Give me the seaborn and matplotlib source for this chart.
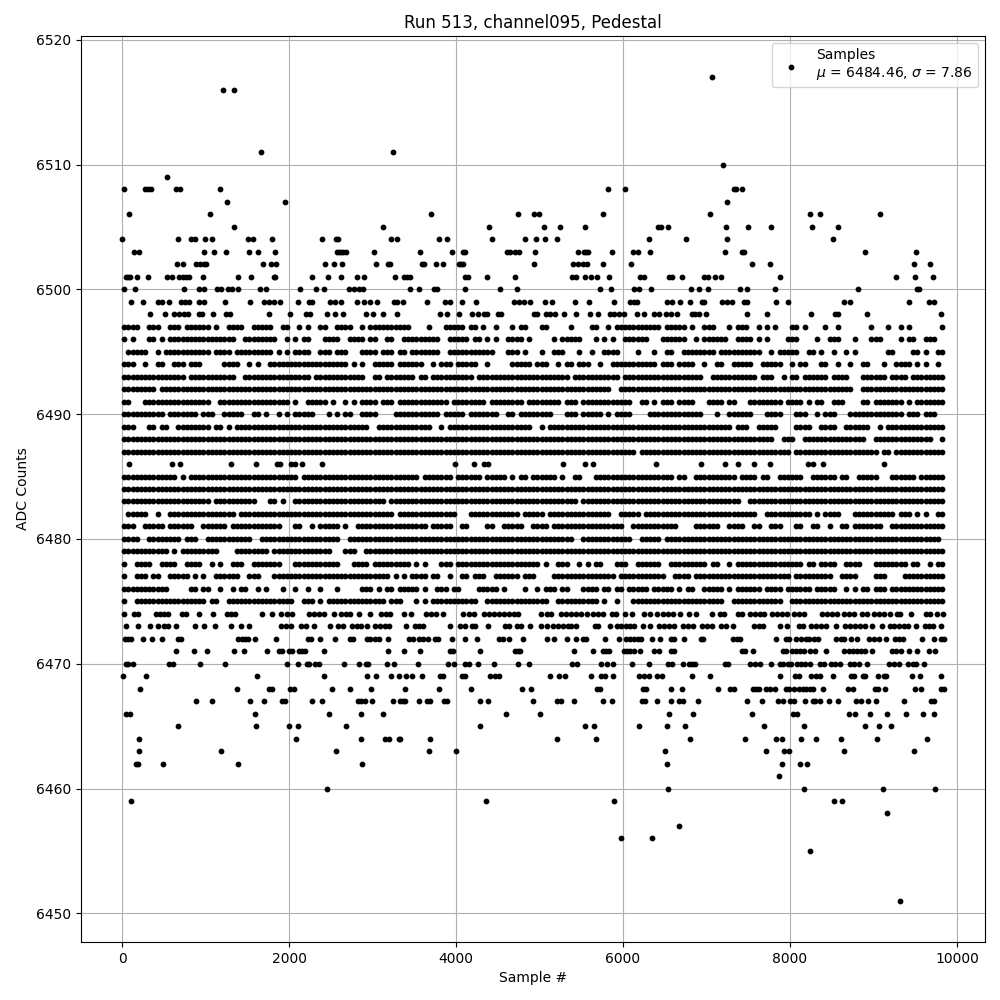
import matplotlib
matplotlib.use('Agg')
import matplotlib.pyplot as plt
import seaborn as sns
import pandas as pd

# sparse rows: sample numbers, one list per ADC level
adc_6517 = [7072]
adc_6516 = [1208, 1344]
adc_6511 = [1664, 3248]
adc_6510 = [7192]
adc_6509 = [536]
adc_6508 = [20, 280, 312, 344, 648, 692, 1172, 5824, 6028, 7324, 7352, 7420]
adc_6507 = [1256, 1952, 7240]
adc_6506 = [80, 1052, 3700, 4744, 4936, 4996, 5764, 7048, 8236, 8356, 9076]
adc_6505 = [1340, 3128, 4396, 5056, 5248, 5548, 6424, 6456, 6544, 7228, 7492, 7768, 8260, 8572]
adc_6504 = [0, 668, 824, 872, 992, 1076, 1508, 1568, 1796, 2396, 2564, 2588, 3224, 3296, 3796, 3892,
            4432, 4828, 4960, 5068, 5212, 6316, 6760, 7240, 8512]
adc_6503 = [140, 208, 980, 1100, 1244, 1520, 1628, 1832, 2576, 2600, 2624, 2648, 2684, 3020, 3568, 3952,
            4084, 4108, 4612, 4648, 4708, 4756, 4948, 5464, 5536, 5560, 5584, 5872, 6124, 6184, 6328,
            7216, 7420, 7444, 8896, 9508]
adc_6502 = [656, 728, 884, 932, 980, 1004, 1688, 1784, 1844, 2432, 2540, 2636, 3044, 3188, 3212, 3592,
            3616, 3760, 3844, 4036, 4060, 4084, 4936, 5404, 5464, 5524, 5572, 5764, 6100, 7540, 7756,
            9484, 9676]
adc_6501 = [44, 68, 92, 176, 308, 536, 596, 680, 728, 764, 800, 968, 1388, 1544, 1820, 1832, 2276, 2468,
            2624, 2816, 2900, 3272, 3376, 3412, 3448, 4108, 4144, 4372, 4708, 5392, 5440, 5548, 5620,
            5692, 5836, 6208, 6256, 6556, 6592, 6712, 6976, 7024, 7108, 7168, 7876, 9268, 9496, 9712]
adc_6500 = [20, 152, 740, 920, 980, 1136, 1184, 1268, 1316, 1388, 1652, 1724, 2132, 2324, 2420, 2720,
            2780, 2840, 2888, 3448, 3556, 3736, 3772, 4108, 4528, 4732, 5728, 5860, 6136, 6196, 6340,
            6820, 6916, 7024, 7396, 7480, 7816, 8812, 9520, 9544]
adc_6499 = [104, 248, 428, 476, 560, 704, 752, 800, 920, 980, 1232, 1532, 1700, 1760, 1820, 1892, 2108,
            2240, 2276, 2492, 2552, 2624, 2816, 2900, 2972, 3056, 3260, 3292, 3364, 3656, 3868, 3928,
            4072, 4240, 4696, 4756, 4816, 4888, 5068, 5152, 5428, 5596, 5896, 6088, 6136, 6172, 6528,
            6588, 6688, 6808, 6944, 6968, 7180, 7240, 7300, 7444, 7480, 7832, 7972, 8644, 8716, 9424,
            9664, 9724]
adc_6498 = [332, 508, 620, 680, 740, 788, 920, 956, 1088, 1244, 1292, 1760, 2012, 2204, 2252, 2456, 2552,
            2648, 2924, 3008, 3128, 3296, 3808, 3892, 4036, 4192, 4264, 4336, 4372, 4504, 4540, 4936,
            4972, 5080, 5128, 5188, 5296, 5440, 5608, 5704, 5848, 5896, 5956, 6016, 6172, 6256, 6376,
            6436, 6520, 6580, 6652, 6832, 6868, 6916, 7000, 7480, 7720, 8248, 8536, 8572, 8920, 9808]
adc_6486 = [80, 596, 692, 1304, 1604, 1852, 1888, 2024, 2072, 2156, 2396, 3988, 4216, 4336, 4384, 5284,
            5548, 5644, 6400, 6940, 7216, 7372, 7564, 7756, 8212, 8272, 8392, 9124]
adc_6474 = [20, 140, 188, 404, 452, 500, 548, 716, 764, 920, 1088, 1256, 1304, 1352, 1676, 1796, 1904,
            1976, 2036, 2240, 2300, 2360, 2420, 2540, 2624, 2684, 2732, 2840, 2972, 3104, 3164, 3212,
            3376, 3460, 3640, 3700, 3760, 3844, 4084, 4156, 4216, 4336, 4396, 4456, 4516, 4576, 4636,
            4696, 4744, 5020, 5092, 5140, 5260, 5316, 5376, 5436, 5496, 5572, 5636, 5696, 5756, 5872,
            5920, 6028, 6112, 6256, 6328, 6412, 6476, 6540, 6600, 6680, 6796, 6880, 7072, 7156, 7204,
            7372, 7420, 7516, 7576, 7636, 7684, 7780, 7844, 7904, 7964, 8044, 8104, 8164, 8380, 8444,
            8504, 8564, 8644, 8704, 8764, 8864, 8924, 9004, 9064, 9124, 9204, 9284, 9324, 9448, 9628,
            9676, 9760, 9830]
adc_6473 = [44, 188, 332, 428, 500, 548, 644, 872, 980, 1112, 1304, 1424, 1520, 1904, 1964, 2024, 2144,
            2204, 2300, 2492, 2588, 2648, 2756, 2816, 2864, 2936, 3032, 3092, 3152, 3200, 3400, 3508,
            3556, 3604, 3928, 4048, 4108, 4192, 4228, 4384, 4588, 4636, 4732, 4780, 4888, 5020, 5084,
            5156, 5216, 5276, 5336, 5380, 5440, 5668, 5704, 5848, 5932, 5980, 6040, 6088, 6136, 6244,
            6328, 6436, 6496, 6556, 6616, 6724, 6784, 6844, 6952, 7012, 7072, 7168, 7228, 7312, 7564,
            7624, 7672, 7876, 7960, 8104, 8152, 8248, 8308, 8368, 8428, 8548, 8656, 8716, 8776, 8836,
            8896, 8980, 9100, 9196, 9244, 9304, 9364, 9412, 9508, 9616, 9664, 9712, 9808]
adc_6472 = [32, 68, 104, 248, 356, 476, 668, 704, 1388, 1436, 1472, 1508, 1592, 1844, 2228, 2264, 2372,
            2552, 2732, 2768, 2936, 2972, 3032, 3080, 3188, 3436, 3484, 3556, 3604, 3664, 3748, 3784,
            3952, 4108, 4252, 4516, 4564, 4636, 4804, 5092, 5176, 5332, 5440, 5524, 5560, 5788, 5956,
            6040, 6088, 6136, 6184, 6220, 6352, 6448, 6580, 6616, 6736, 6940, 6964, 7312, 7360, 7396,
            7828, 7948, 7984, 8068, 8128, 8188, 8224, 8284, 8332, 8548, 8608, 8644, 8728, 8800, 8944,
            9004, 9064, 9148, 9256, 9304, 9352, 9580, 9724, 9808, 9844]
adc_6471 = [644, 860, 1016, 1340, 1460, 1736, 1880, 1916, 2000, 2036, 2120, 2156, 2192, 2420, 3188, 3376,
            3568, 3928, 3964, 4288, 4708, 4744, 4768, 5416, 5644, 5764, 5800, 5836, 6016, 6052, 6088,
            6136, 6208, 6376, 6436, 6580, 6616, 7420, 7456, 7552, 7912, 7948, 8020, 8068, 8116, 8164,
            8236, 8296, 8428, 8644, 8704, 8752, 8800, 8848, 8896, 8980, 9220, 9268, 9328, 9424, 9520,
            9664, 9736]
adc_6470 = [44, 68, 128, 560, 608, 932, 1232, 1976, 2108, 2216, 2240, 2312, 2360, 2660, 2840, 2924, 2948,
            3176, 3260, 3544, 3904, 3976, 4108, 4156, 4264, 4456, 4744, 4876, 5392, 5452, 5740, 5812,
            5884, 6112, 6316, 6544, 6592, 6724, 6796, 6832, 6868, 7216, 7252, 7516, 7576, 7636, 7768,
            7876, 7912, 7972, 8008, 8080, 8128, 8176, 8236, 8356, 8404, 8488, 8536, 8596, 8716, 8764,
            8824, 8928, 9184, 9244, 9304, 9412, 9472, 9508, 9604]
adc_6469 = [8, 284, 1616, 2420, 2936, 3044, 3224, 3320, 3400, 3472, 3592, 3808, 3844, 4072, 4108, 4408,
            4468, 4516, 5128, 5236, 5308, 5620, 5740, 5788, 5884, 6196, 6256, 6316, 6412, 6472, 6832,
            7048, 7876, 8056, 8104, 8248, 8308, 8356, 8512, 8728, 8764, 8872, 8896, 9052, 9124, 9148,
            9460, 9556, 9808]
adc_6468 = [212, 1376, 1760, 1796, 2012, 2060, 2516, 2732, 2984, 3388, 3796, 4180, 4792, 4900, 5692, 5728,
            6244, 6280, 6576, 6712, 7132, 7276, 7324, 7552, 7588, 7624, 7708, 7756, 7816, 7948, 7984,
            8044, 8104, 8152, 8188, 8236, 8272, 8392, 8692, 8752, 9016, 9052, 9136, 9496, 9568, 9808,
            9844]
adc_6467 = [884, 1076, 1532, 1700, 1916, 1952, 2276, 2396, 2828, 2864, 2912, 2996, 3248, 3332, 3364, 3388,
            3556, 3652, 3688, 3856, 3892, 4288, 4384, 4924, 5212, 5260, 5416, 5764, 5872, 6232, 6268,
            6412, 6580, 6676, 6724, 6904, 7480, 7660, 7852, 7912, 7996, 8044, 8176, 8272, 8296, 8356,
            8464, 8572, 8788, 8848, 8932, 9028, 9364, 9688, 9724]
adc_6466 = [44, 92, 1592, 2480, 2864, 3128, 4600, 5008, 6556, 6844, 7540, 8032, 8080, 8704, 8776, 8956,
            9160, 9388, 9592, 9724]
adc_6465 = [668, 1604, 2000, 2108, 2684, 4288, 5548, 5656, 6196, 6532, 6748, 7684, 8164, 8896, 9064, 9208]
adc_6464 = [200, 2084, 2864, 3152, 3200, 3320, 3328, 3688, 5212, 5680, 6808, 7456, 7828, 7900, 8128, 8308,
            8608, 9040, 9640]
adc_6463 = [200, 1184, 2564, 3676, 4000, 6508, 7708, 7924, 7984, 8644, 9484]
adc_6462 = [164, 188, 488, 1388, 2876, 6532, 7900, 8116, 8200]
adc_6461 = [7864]
adc_6460 = [2456, 6544, 8164, 9112, 9736]
adc_6459 = [104, 4360, 5896, 8524, 8620]
adc_6458 = [9160]
adc_6457 = [6670]
adc_6456 = [5980, 6347]
adc_6455 = [8240]
adc_6451 = [9317]

# dense rows: one block per 500 samples, one character per 50 samples
mask_6497 = ("####..###. .###.##### #.#..####. .#####..## ..#.#..##. .####..#.# #########. ...#...### ##.##.#..# ...#.##... "
             "##.....#.. ..##..#.## #########. #####.#..# ##...#.### ..#.#.#... ##.#....#. .#.......# ...#..#.#. ......#")
mask_6496 = ("#.#...##.# .######### #######..# #######..# .#.##...## ##..####.# #..##..### ######..## ###.##.#.# ..####.#.. "
             "...#.##### ...#.#.#.. ######...# #####..#.# #####..### #.#.#....# ##....#..# ##...#...# ##....#.## ..###..")
mask_6495 = (".#####..#. ########## #.####.### ######.#.# .####..### .###...### #.###.##.# ######..## #########. ..###.#... "
             "#..###...# ..#..####. ...#...#.. ##..###### ##.####### ###..#.### ##..##.#.. #..#.#.... ...##....# #.#..##")
mask_6494 = ("###..#..## ..###.###. ....####.. #.#..##### ########## ####.#.#.. #####.#### ##..#.###. #####..#.. ...#####.# "
             "##..#.##.# ##..#..### ########.# ##.####..# ..##..#### #..#####.. #.##...##. .#..#..##. ..#..####. #.#..#.")
mask_6493 = ("########## #####.#### #######..# ########## #####.#### ########.. ##.####### .##.###### ####.##### ########## "
             "#######.## #########. ########## #########. .######### ##.###..#. ##.######. ####...### ###.####.# #######")
mask_6492 = ("########.# ########## ########## ########## ########## ########## ########## ########## ########## ########## "
             "########## #######..# ########## ########## ########## ########## ########## #####..### ########## #######")
mask_6491 = ("##...##### ########## #..####### ########## .#..#####. #..#.#.### #.###.#### ########.# #######.## ######.### "
             "#####.###. ########## ##..##.#.# ##.####... ####.##... ########.# ###.#.##.. ###....##. #######.#. #######")
mask_6490 = ("########## .#######.# ##..#####. .##.#..#.# .#####...# .#.##..### #....##### ######.### ##.####### ..##.##### "
             "###...###. #####.#.## ##....#### #########. ..#..##### #...####.. .###..#.## #...###### #######.## #.###..")
mask_6489 = ("###...##.# #..####### #.##.#.### ########## ########## #########. .######### ####..#.## ########## ########.. "
             "#.######## ########## ########## ########## ######.### ..#####... .####..### #..######. .#.####### #######")
mask_6488 = ("########## ########## ########## ########## ########## ########## ########## ########## ########## ########## "
             "########## ########## ########## ########## ########## ######..## #..####### ########.. ########## ####..#")
mask_6487 = ("########## ########## ########## ########## ########## ########## ########## ########## ########## ########## "
             "########## ########## ###.###### ########## ########## ########## .######### ########## #.##.##### #######")
mask_6485 = ("########## ###.#.#### ########## ########## ##.####### ########## ########## #.#######. ######.### ##.#.##.## "
             "####.#..## ...####### ########## ##.##..### #######.## ##.##..### ###..##### #.##..#### #...###### .######")
mask_6484 = ("########## ########## ########## ########## ########## ########## ########## ########## ########## ########## "
             "########## ########## ########## ########## ########## ########## ########## ########## ########## #######")
mask_6483 = ("########## ########## #.######## ##...##.#. .######### ########## ###.###### ########## ########## ########## "
             "#########. ########## ########## ########## ########.. ########## ########## ########## ########## #######")
mask_6482 = (".#####..#. .######### #######.## ########## ########## ########## #####.#### ########## ...####### #####.#### "
             "#.######## #######..# ####.##### ########## ########## ##..###### #####.#.## ##...##### #####.###. #.#..##")
mask_6481 = ("###..##### .######..# #####.#### ########.. .##..#.### ##.#..#### ########## ###.#####. .##....##. .#####..## "
             "##.####### ########## ..######## ###....### ###..####. .##..###.. .##..##..# ..##.##### ##..###### #######")
mask_6480 = ("####..#### ####.###.. ########## #..####### ########## ##..###### ########## ########## ########## ########## "
             "########.. ########## ##..#####. ########## ########## ########## ########## ########## ########## ######.")
mask_6479 = ("########## #.#.###### ###....### #####.#### ########## ...###..## ########## ########## ########## ########## "
             "########## ########## ########## ########## ########## ########## ########## ########## ########## #######")
mask_6478 = ("#..####..# ###..####. .#.#..###. .#######.. .######### ##...####. #########. #.#...###. ########## ########## "
             ".#..###..# .#.##...## #..######. .######### .##..#.### ########## ###.##.### #..####... ########.# #..#.##")
mask_6477 = ("#..###.##. .#####.#.# ..######.. ###...#### ########## ########## ####.#.#.# ###.##..#. .##.###..# #####.###. "
             "...####### ########.# ########## ..####.### ########## ########## .######### ..####.... ###....### #######")
mask_6476 = ("########## #.....##.# #..#..#.## ..#.#...#. .#..#..#.. .#.....### .#.##.#### #.#..###.# #....##### .#....#..# "
             ".###.##... ####.##.## .#####.### ##.#.##..# ####.#.### ###.####.# #####.#### #..#.#.##. ###.###### #######")
mask_6475 = ("#..####### ########## .##..##### ########## #..###.#.# ########## ###.###... #.#.###### #####..### ########## "
             "##..###### ####.#..#. ..######## ########## ####..#### ########.. ########## ########## ########## #######")

sparse_rows = [
    (6517, adc_6517), (6516, adc_6516), (6511, adc_6511), (6510, adc_6510), (6509, adc_6509),
    (6508, adc_6508), (6507, adc_6507), (6506, adc_6506), (6505, adc_6505), (6504, adc_6504),
    (6503, adc_6503), (6502, adc_6502), (6501, adc_6501), (6500, adc_6500), (6499, adc_6499),
    (6498, adc_6498), (6486, adc_6486), (6474, adc_6474), (6473, adc_6473), (6472, adc_6472),
    (6471, adc_6471), (6470, adc_6470), (6469, adc_6469), (6468, adc_6468), (6467, adc_6467),
    (6466, adc_6466), (6465, adc_6465), (6464, adc_6464), (6463, adc_6463), (6462, adc_6462),
    (6461, adc_6461), (6460, adc_6460), (6459, adc_6459), (6458, adc_6458), (6457, adc_6457),
    (6456, adc_6456), (6455, adc_6455), (6451, adc_6451),
]
dense_rows = [
    (6497, mask_6497), (6496, mask_6496), (6495, mask_6495), (6494, mask_6494), (6493, mask_6493),
    (6492, mask_6492), (6491, mask_6491), (6490, mask_6490), (6489, mask_6489), (6488, mask_6488),
    (6487, mask_6487), (6485, mask_6485), (6484, mask_6484), (6483, mask_6483), (6482, mask_6482),
    (6481, mask_6481), (6480, mask_6480), (6479, mask_6479), (6478, mask_6478), (6477, mask_6477),
    (6476, mask_6476), (6475, mask_6475),
]

samples = []
counts = []
for level, xs in sparse_rows:
    for x in xs:
        samples.append(x)
        counts.append(level)
for level, mask in dense_rows:
    for g, block in enumerate(mask.split()):
        for c, ch in enumerate(block):
            if ch == '#':
                samples.append(500 * g + 50 * c + 25)
                counts.append(level)

df = pd.DataFrame({'sample': samples, 'adc': counts})

fig, ax = plt.subplots(figsize=(10, 10), dpi=100)
sns.scatterplot(data=df, x='sample', y='adc', ax=ax, color='k', marker='.', s=40,
                edgecolor='k', linewidth=1, zorder=2,
                label='Samples\n$\\mu$ = 6484.46, $\\sigma$ = 7.86')
ax.set_title('Run 513, channel095, Pedestal', pad=5.5)
ax.set_xlabel('Sample #')
ax.set_ylabel('ADC Counts')
ax.grid(True)
ax.legend(loc='upper right')
fig.subplots_adjust(left=0.081, right=0.985, top=0.964, bottom=0.058)
fig.savefig('out.png', dpi=100)
